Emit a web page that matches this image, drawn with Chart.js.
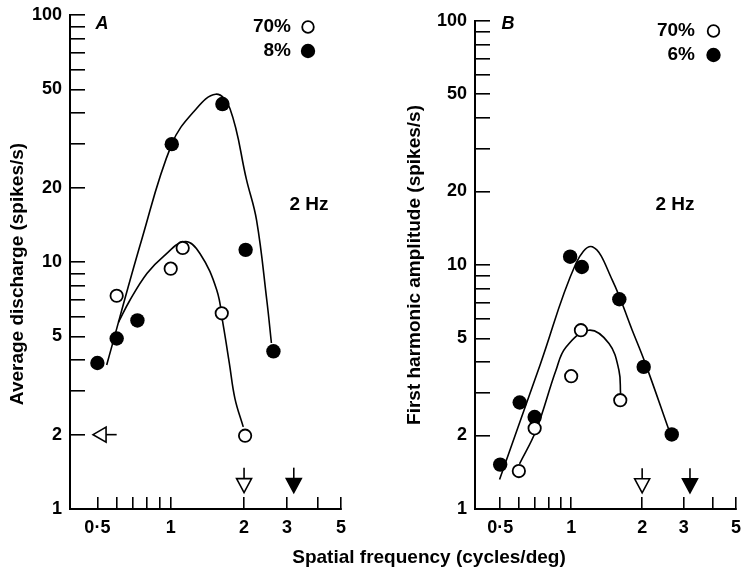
<!DOCTYPE html>
<html>
<head>
<meta charset="utf-8">
<script src="https://cdn.jsdelivr.net/npm/chart.js@4.4.1/dist/chart.umd.min.js"></script>
<style>
html,body{margin:0;padding:0;background:#fff;}
#wrap{position:relative;width:744px;height:572px;overflow:hidden;background:#fff;}
#wrap canvas{position:absolute;left:0;top:0;}
</style>
</head>
<body>
<div id="wrap">
<canvas id="chartA" width="744" height="572"></canvas>
<canvas id="chartB" width="744" height="572"></canvas>
</div>
<script>
// ---------------- data ----------------
// shared axes
const xTickValues = [0.5, 0.6, 0.7, 0.8, 0.9, 1, 2, 3, 4, 5];
const xTickLabels = ['0·5', '', '', '', '', '1', '2', '3', '', '5'];
const yTickValues = [1, 2, 3, 4, 5, 6, 7, 8, 9, 10, 20, 30, 40, 50, 60, 70, 80, 90, 100];
const yTickLabels = ['1', '2', '', '', '5', '', '', '', '', '10', '20', '', '', '50', '', '', '', '', '100'];

// Panel A: average discharge (spikes/s)
const freqOpenA   = [0.60, 1.00, 1.12, 1.62, 2.02];
const rateOpenA   = [7.3, 9.4, 11.4, 6.2, 1.98];
const freqFilledA = [0.50, 0.60, 0.73, 1.01, 1.63, 2.03, 2.64];
const rateFilledA = [3.9, 4.9, 5.8, 30.0, 43.6, 11.2, 4.35];
const fitOpenFreqA   = [0.61, 0.68, 0.80, 0.93, 1.145, 1.32, 1.545, 1.64, 1.74, 1.835, 1.985];
const fitOpenRateA   = [5.7, 7.0, 9.0, 10.5, 12.1, 10.8, 7.7, 5.6, 3.9, 2.8, 2.15];
const fitFilledFreqA = [0.546, 0.76, 1.01, 1.24, 1.53, 1.75, 2.05, 2.25, 2.48, 2.59];
const fitFilledRateA = [3.83, 12.3, 30.0, 40.5, 47.8, 41.8, 21.4, 14.8, 7.0, 4.7];
const legendA = ['70%', '8%'];
const cutoffFreqA = [2.0, 3.2];          // downward arrows
const cutoffFilledA = [false, true];
const spontRateA = 2.0;                  // leftward arrow level
const spontArrowFreqA = [0.48, 0.60];    // tip, tail

// Panel B: first harmonic amplitude (spikes/s)
const freqOpenB   = [0.60, 0.70, 1.00, 1.10, 1.615];
const ampOpenB    = [1.43, 2.14, 3.5, 5.4, 2.79];
const freqFilledB = [0.50, 0.605, 0.70, 0.99, 1.11, 1.60, 2.03, 2.67];
const ampFilledB  = [1.52, 2.73, 2.38, 10.8, 9.8, 7.23, 3.82, 2.02];
const fitOpenFreqB   = [0.604, 0.71, 0.862, 0.95, 1.19, 1.447, 1.594, 1.62];
const fitOpenAmpB    = [1.53, 2.1, 3.7, 4.6, 5.4, 4.76, 3.7, 2.97];
const fitFilledFreqB = [0.497, 0.74, 1.046, 1.23, 1.494, 1.815, 2.065, 2.6];
const fitFilledAmpB  = [1.32, 3.92, 10.1, 11.85, 8.66, 5.4, 3.94, 2.1];
const legendB = ['70%', '6%'];
const cutoffFreqB = [2.0, 3.19];
const cutoffFilledB = [false, true];

// ---------------- helpers ----------------
const FONT = '"Liberation Sans", Arial, Helvetica, sans-serif';
const ARROW_TIP = 1.165;   // y value of arrow tips (decoration)
const ARROW_TAIL = 1.47;

function pts(xs, ys) { return xs.map((x, i) => ({x: x, y: ys[i]})); }

const decorPlugin = {
  id: 'decor',
  afterDraw(chart, args, o) {
    const ctx = chart.ctx, xs = chart.scales.x, ys = chart.scales.y;
    ctx.save();
    ctx.fillStyle = '#000';
    ctx.strokeStyle = '#000';
    ctx.textBaseline = 'middle';
    // panel letter
    ctx.font = 'italic bold 18px ' + FONT;
    ctx.textAlign = 'center';
    ctx.fillText(o.letter, o.letterPos[0], o.letterPos[1]);
    // stimulus note
    ctx.font = 'bold 19px ' + FONT;
    ctx.fillText(o.note, o.notePos[0], o.notePos[1]);
    // legend
    o.legend.forEach((txt, i) => {
      const y = o.legendPos[1] + i * o.legendGap;
      ctx.font = 'bold 19px ' + FONT;
      ctx.textAlign = 'right';
      ctx.fillStyle = '#000';
      ctx.fillText(txt, o.legendPos[0], y);
      const cx = o.legendPos[0] + o.legendMarkerDx;
      ctx.beginPath();
      if (i === 0) {
        ctx.arc(cx, y, 5.8, 0, Math.PI * 2);
        ctx.fillStyle = '#fff'; ctx.fill();
        ctx.lineWidth = 1.8; ctx.stroke();
      } else {
        ctx.arc(cx, y, 7.2, 0, Math.PI * 2);
        ctx.fillStyle = '#000'; ctx.fill();
      }
    });
    ctx.fillStyle = '#000';
    // y axis title
    ctx.save();
    ctx.font = 'bold 19px ' + FONT;
    ctx.textAlign = 'center';
    ctx.translate(o.yTitlePos[0], o.yTitlePos[1]);
    ctx.rotate(-Math.PI / 2);
    ctx.fillText(o.yTitle, 0, 0);
    ctx.restore();
    // x axis title (shared)
    if (o.xTitle) {
      ctx.font = 'bold 19px ' + FONT;
      ctx.textAlign = 'center';
      ctx.fillText(o.xTitle, o.xTitlePos[0], o.xTitlePos[1]);
    }
    // downward arrows (cut-off spatial frequencies)
    ctx.lineWidth = 1.6;
    o.arrowFreq.forEach((f, i) => {
      const x = xs.getPixelForValue(f);
      const tip = ys.getPixelForValue(ARROW_TIP);
      const tail = ys.getPixelForValue(ARROW_TAIL);
      const h = 14, w = 7.5;
      ctx.beginPath();
      ctx.moveTo(x, tail); ctx.lineTo(x, tip - h); ctx.stroke();
      ctx.beginPath();
      ctx.moveTo(x - w, tip - h); ctx.lineTo(x + w, tip - h); ctx.lineTo(x, tip); ctx.closePath();
      if (o.arrowFilled[i]) { ctx.fillStyle = '#000'; ctx.fill(); ctx.stroke(); }
      else { ctx.fillStyle = '#fff'; ctx.fill(); ctx.stroke(); }
    });
    // leftward arrow (spontaneous rate)
    if (o.hArrow) {
      const y = ys.getPixelForValue(o.hArrow.y);
      const tip = xs.getPixelForValue(o.hArrow.tip);
      const tail = xs.getPixelForValue(o.hArrow.tail);
      const L = 13, hw = 7.5;
      ctx.beginPath();
      ctx.moveTo(tip + L, y); ctx.lineTo(tail, y); ctx.stroke();
      ctx.beginPath();
      ctx.moveTo(tip, y); ctx.lineTo(tip + L, y - hw); ctx.lineTo(tip + L, y + hw); ctx.closePath();
      ctx.fillStyle = '#fff'; ctx.fill(); ctx.stroke();
    }
    ctx.restore();
  }
};

function makeChart(id, c) {
  const zeroPad = s => { s.paddingLeft = 0; s.paddingRight = 0; s.paddingTop = 0; s.paddingBottom = 0; };
  return new Chart(document.getElementById(id), {
    type: 'scatter',
    data: {
      datasets: [
        { label: c.legend[0], data: pts(c.freqOpen, c.valOpen), showLine: false,
          pointStyle: 'circle', pointRadius: 6.2, pointHoverRadius: 6.2, pointBorderWidth: 1.8,
          pointBackgroundColor: '#fff', pointBorderColor: '#000', order: 0 },
        { label: c.legend[1], data: pts(c.freqFilled, c.valFilled), showLine: false,
          pointStyle: 'circle', pointRadius: 7.2, pointHoverRadius: 7.2, pointBorderWidth: 0,
          pointBackgroundColor: '#000', pointBorderColor: '#000', order: 0 },
        { label: 'fit ' + c.legend[0], data: pts(c.fitOpenFreq, c.fitOpenVal), showLine: true,
          pointRadius: 0, borderColor: '#000', borderWidth: 1.6, tension: 0.4,
          fill: false, order: 1 },
        { label: 'fit ' + c.legend[1], data: pts(c.fitFilledFreq, c.fitFilledVal), showLine: true,
          pointRadius: 0, borderColor: '#000', borderWidth: 1.6, tension: 0.4,
          fill: false, order: 1 }
      ]
    },
    options: {
      responsive: false,
      animation: false,
      devicePixelRatio: 1,
      events: [],
      layout: { padding: c.padding },
      plugins: {
        legend: { display: false },
        tooltip: { enabled: false },
        decor: c.decor
      },
      scales: {
        x: {
          type: 'logarithmic', position: 'bottom', min: c.xMin, max: 5, bounds: 'data',
          afterBuildTicks: s => { s.ticks = xTickValues.map(v => ({value: v})); },
          afterFit: s => { s.height = 63; zeroPad(s); },
          grid: { display: true, drawOnChartArea: false, drawTicks: true, tickLength: -12,
                  color: '#000', lineWidth: 1.6 },
          border: { display: true, color: '#000', width: 2 },
          ticks: { autoSkip: false, maxRotation: 0, minRotation: 0, padding: 20, color: '#000',
                   font: { family: FONT, size: 18, weight: 'bold' },
                   callback: v => xTickLabels[xTickValues.indexOf(v)] ?? '' },
          title: { display: false }
        },
        y: {
          type: 'logarithmic', position: 'left', min: 1, max: 100, bounds: 'data',
          afterBuildTicks: s => { s.ticks = yTickValues.map(v => ({value: v})); },
          afterFit: s => { s.width = c.yWidth; zeroPad(s); },
          grid: { display: true, drawOnChartArea: false, drawTicks: true, tickLength: -15,
                  color: '#000', lineWidth: 1.6 },
          border: { display: true, color: '#000', width: 2 },
          ticks: { autoSkip: false, padding: 23, color: '#000',
                   font: { family: FONT, size: 18, weight: 'bold' },
                   callback: v => yTickLabels[yTickValues.indexOf(v)] ?? '' },
          title: { display: false }
        }
      }
    },
    plugins: [decorPlugin]
  });
}

makeChart('chartA', {
  freqOpen: freqOpenA, valOpen: rateOpenA, freqFilled: freqFilledA, valFilled: rateFilledA,
  fitOpenFreq: fitOpenFreqA, fitOpenVal: fitOpenRateA, fitFilledFreq: fitFilledFreqA, fitFilledVal: fitFilledRateA,
  legend: legendA, xMin: 0.386, yWidth: 70,
  padding: { left: 0, right: 403, top: 15, bottom: 0 },
  decor: {
    letter: 'A', letterPos: [102, 24], note: '2 Hz', notePos: [309, 205],
    legend: legendA, legendPos: [291, 27], legendGap: 24, legendMarkerDx: 17,
    yTitle: 'Average discharge (spikes/s)', yTitlePos: [17.5, 274],
    xTitle: 'Spatial frequency (cycles/deg)', xTitlePos: [429, 557.5],
    arrowFreq: cutoffFreqA, arrowFilled: cutoffFilledA,
    hArrow: { y: spontRateA, tip: spontArrowFreqA[0], tail: spontArrowFreqA[1] }
  }
});

makeChart('chartB', {
  freqOpen: freqOpenB, valOpen: ampOpenB, freqFilled: freqFilledB, valFilled: ampFilledB,
  fitOpenFreq: fitOpenFreqB, fitOpenVal: fitOpenAmpB, fitFilledFreq: fitFilledFreqB, fitFilledVal: fitFilledAmpB,
  legend: legendB, xMin: 0.391, yWidth: 80,
  padding: { left: 395, right: 5, top: 20.7, bottom: 0 },
  decor: {
    letter: 'B', letterPos: [508, 24.5], note: '2 Hz', notePos: [675, 205],
    legend: legendB, legendPos: [695, 31], legendGap: 24, legendMarkerDx: 18.5,
    yTitle: 'First harmonic amplitude (spikes/s)', yTitlePos: [414.5, 265],
    xTitle: null, xTitlePos: null,
    arrowFreq: cutoffFreqB, arrowFilled: cutoffFilledB,
    hArrow: null
  }
});
</script>
</body>
</html>
